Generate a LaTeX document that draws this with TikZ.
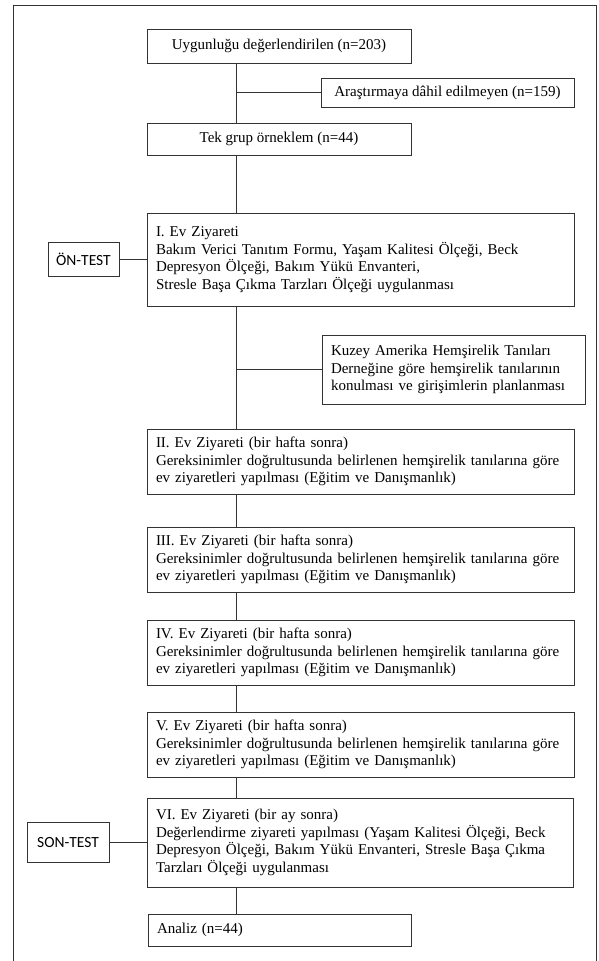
\documentclass[tikz,border=0pt]{standalone}
\usepackage{fontspec}
\setmainfont{Liberation Serif}
\newfontfamily\etiketfont{Carlito}

\begin{document}
\begin{tikzpicture}[x=1pt, y=-1pt, line width=0.8pt, draw=black!80,
  every node/.style={font=\fontsize{15}{17.5}\selectfont, anchor=north west, inner sep=0pt, outer sep=0pt},
  kutu/.style={draw=black!80, line width=0.9pt},
  evkutu/.style={kutu, minimum width=427, minimum height=65, text width=409, align=left},
  etiket/.style={kutu, font=\etiketfont\fontsize{15.5}{17}\selectfont, align=center}]
  \useasboundingbox (0,0) rectangle (598,961);
  % outer frame
  \draw (13,961) -- (13,5) -- (596,5) -- (596,961);
  \coordinate (omurga) at (236,0);

  \node[kutu, minimum width=264, minimum height=34, align=center] (uygun) at (147,29) {Uygunluğu değerlendirilen (n=203)};
  \node[kutu, minimum width=253, minimum height=29, align=center] (haric) at (321,78) {Araştırmaya dâhil edilmeyen (n=159)};
  \node[kutu, minimum width=264, minimum height=32, align=center] (orneklem) at (147,123) {Tek grup örneklem (n=44)};

  \node[evkutu, minimum height=93] (ziyaret1) at (147,213) {I. Ev Ziyareti\\
    Bakım Verici Tanıtım Formu, Yaşam Kalitesi Ölçeği, Beck\\
    Depresyon Ölçeği, Bakım Yükü Envanteri,\\
    Stresle Başa Çıkma Tarzları Ölçeği uygulanması};
  \node[etiket, minimum width=71, minimum height=34, anchor=west] (ontest) at (48,259.5) {ÖN-TEST};

  \node[kutu, minimum width=263, minimum height=69, text width=245, align=left] (kuzey) at (322,335) {Kuzey Amerika Hemşirelik Tanıları\\
    Derneğine göre hemşirelik tanılarının\\
    konulması ve girişimlerin planlanması};

  \node[evkutu] (ziyaret2) at (147,429) {II. Ev Ziyareti (bir hafta sonra)\\
    Gereksinimler doğrultusunda belirlenen hemşirelik tanılarına göre\\
    ev ziyaretleri yapılması (Eğitim ve Danışmanlık)};
  \node[evkutu] (ziyaret3) at (147,527) {III. Ev Ziyareti (bir hafta sonra)\\
    Gereksinimler doğrultusunda belirlenen hemşirelik tanılarına göre\\
    ev ziyaretleri yapılması (Eğitim ve Danışmanlık)};
  \node[evkutu] (ziyaret4) at (147,620) {IV. Ev Ziyareti (bir hafta sonra)\\
    Gereksinimler doğrultusunda belirlenen hemşirelik tanılarına göre\\
    ev ziyaretleri yapılması (Eğitim ve Danışmanlık)};
  \node[evkutu] (ziyaret5) at (147,712) {V. Ev Ziyareti (bir hafta sonra)\\
    Gereksinimler doğrultusunda belirlenen hemşirelik tanılarına göre\\
    ev ziyaretleri yapılması (Eğitim ve Danışmanlık)};
  \node[evkutu, minimum width=426, minimum height=89, text width=408] (ziyaret6) at (147,798) {VI. Ev Ziyareti (bir ay sonra)\\
    Değerlendirme ziyareti yapılması (Yaşam Kalitesi Ölçeği, Beck\\
    Depresyon Ölçeği, Bakım Yükü Envanteri, Stresle Başa Çıkma\\
    Tarzları Ölçeği uygulanması};
  \node[etiket, minimum width=82, minimum height=40, anchor=west] (sontest) at (27,842.5) {SON-TEST};

  \node[kutu, minimum width=263, minimum height=32, text width=245, align=left] (analiz) at (148,914) {Analiz (n=44)};

  % connectors
  \draw (uygun.south -| omurga) -- (orneklem.north -| omurga);
  \draw (haric.west) -- (haric.west -| omurga);
  \draw (orneklem.south -| omurga) -- (ziyaret1.north -| omurga);
  \draw (ontest.east) -- (ontest.east -| ziyaret1.west);
  \draw (ziyaret1.south -| omurga) -- (ziyaret2.north -| omurga);
  \draw (kuzey.west) -- (kuzey.west -| omurga);
  \draw (ziyaret2.south -| omurga) -- (ziyaret3.north -| omurga);
  \draw (ziyaret3.south -| omurga) -- (ziyaret4.north -| omurga);
  \draw (ziyaret4.south -| omurga) -- (ziyaret5.north -| omurga);
  \draw (ziyaret5.south -| omurga) -- (ziyaret6.north -| omurga);
  \draw (sontest.east) -- (sontest.east -| ziyaret6.west);
  \draw (ziyaret6.south -| omurga) -- (analiz.north -| omurga);
\end{tikzpicture}
\end{document}
